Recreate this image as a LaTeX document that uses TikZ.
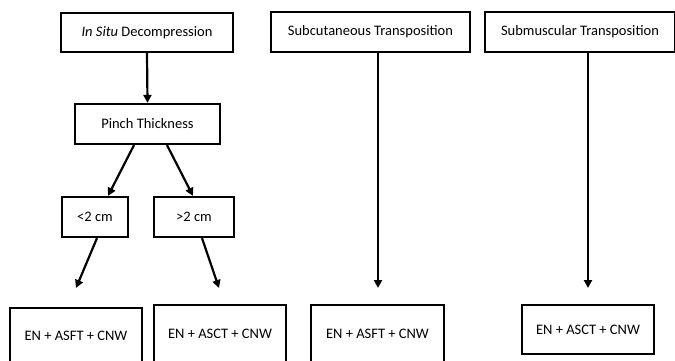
\documentclass[tikz,border=0pt]{standalone}
\usepackage{fontspec}
\setmainfont{Carlito}
\usetikzlibrary{arrows.meta}
\begin{document}
\begin{tikzpicture}[x=1pt,y=-1pt,
  box/.style={draw, line width=2.2pt, inner sep=0pt, font=\fontsize{14.5}{17}\selectfont},
  arr/.style={line width=2.2pt, -{Triangle[length=8pt,width=8pt]}}]
\useasboundingbox (0,0) rectangle (675,360);
\clip (0,0) rectangle (675,360);
\node[box, minimum width=172pt, minimum height=39pt] (insitu) at (147,32.5) {\textit{In Situ} Decompression};
\node[box, minimum width=145pt, minimum height=40pt] (pinch) at (147.5,124) {Pinch Thickness};
\node[box, minimum width=66pt, minimum height=40pt] (lt) at (95,217) {<2 cm};
\node[box, minimum width=80pt, minimum height=40pt] (gt) at (194,217) {>2 cm};
\node[box, minimum width=199pt, minimum height=40pt] (subcut) at (370.5,32) {Subcutaneous Transposition};
\node[box, minimum width=190pt, minimum height=40pt] (submus) at (580,32) {Submuscular Transposition};
\node[box, minimum width=132pt, minimum height=56pt] (b1) at (76,336) {EN + ASFT + CNW};
\node[box, minimum width=132pt, minimum height=58pt] (b2) at (220,334) {EN + ASCT + CNW};
\node[box, minimum width=133pt, minimum height=58pt] (b3) at (377.5,334) {EN + ASFT + CNW};
\node[box, minimum width=132pt, minimum height=49pt] (b4) at (588,329.5) {EN + ASCT + CNW};
\coordinate (c1) at (76,288);
\coordinate (c2) at (219,288);
\coordinate (c3) at (378,288);
\coordinate (c4) at (588,288);
\draw[arr] (insitu.south) -- (pinch.north);
\draw[arr] ([xshift=-13.5pt]pinch.south) -- ([xshift=13pt]lt.north);
\draw[arr] ([xshift=19.5pt]pinch.south) -- ([xshift=-1pt]gt.north);
\draw[arr] ([xshift=2pt]lt.south) -- (c1);
\draw[arr] ([xshift=8pt]gt.south) -- (c2);
\draw[arr] ([xshift=7.5pt]subcut.south) -- (c3);
\draw[arr] ([xshift=8pt]submus.south) -- (c4);
\end{tikzpicture}
\end{document}
